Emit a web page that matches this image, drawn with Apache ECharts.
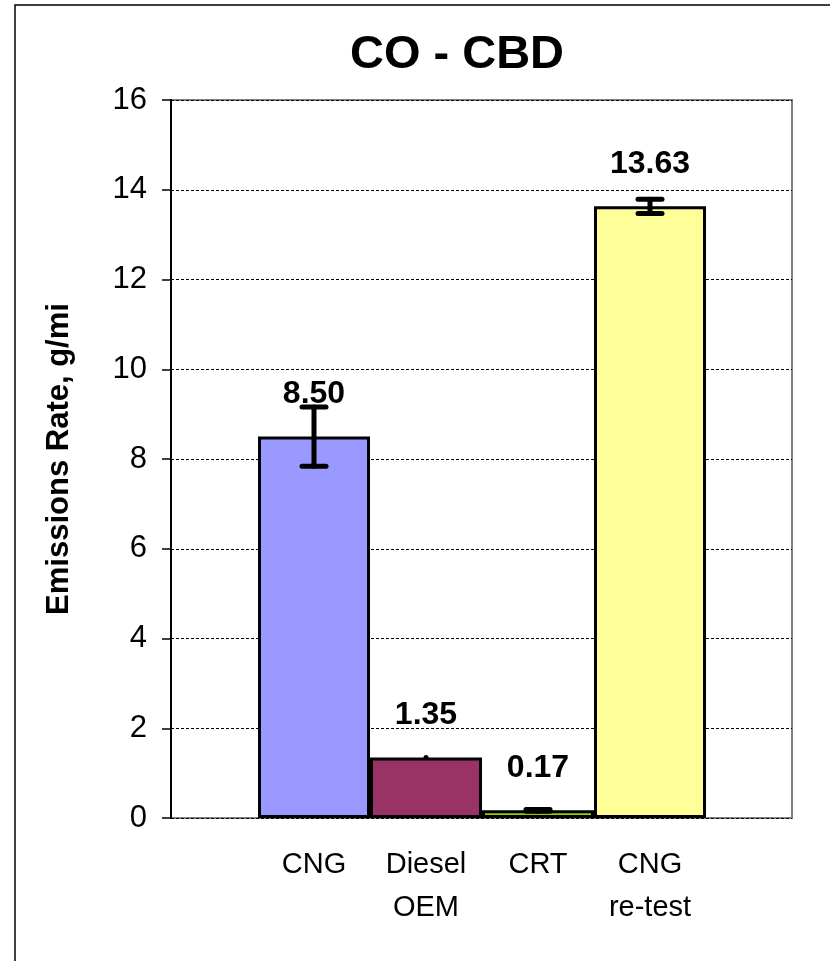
<!DOCTYPE html>
<html>
<head>
<meta charset="utf-8">
<script src="https://cdn.jsdelivr.net/npm/echarts@6/dist/echarts.min.js"></script>
<style>
  html, body { margin: 0; padding: 0; background: #fff; }
  #chart { width: 830px; height: 961px; }
</style>
</head>
<body>
<div id="chart"></div>
<script>
// chart data
var categories = ['CNG', 'Diesel\nOEM', 'CRT', 'CNG\nre-test'];
var emissions = [8.50, 1.35, 0.17, 13.63];
var errors = [0.66, 0, 0.02, 0.16];
var barColors = ['#9999FF', '#993366', '#99CC00', '#FFFF99'];

var font = 'Liberation Sans, Arial, sans-serif';
var chart = echarts.init(document.getElementById('chart'));

var barData = emissions.map(function(v, i) {
	return { value: v, itemStyle: { color: barColors[i] } };
});
var errData = emissions.map(function(v, i) {
	return [i, v - errors[i], v + errors[i]];
});

var option = {
	animation: false,
	backgroundColor: '#fff',
	textStyle: { fontFamily: font },
	title: {
		text: 'CO - CBD',
		left: 452,
		top: 27,
		textAlign: 'center',
		textStyle: { fontSize: 47, fontWeight: 'bold', color: '#000', fontFamily: font }
	},
	graphic: [{
		type: 'rect',
		shape: { x: 15, y: 5, width: 830, height: 1000 },
		style: { fill: 'none', stroke: '#000', lineWidth: 1.5 },
		silent: true
	}],
	grid: [
		{ left: 171, right: 38, top: 100, bottom: 143, show: true, borderColor: '#808080', borderWidth: 2 },
		{ left: 258, right: 124, top: 100, bottom: 143 }
	],
	xAxis: [
		{ type: 'category', gridIndex: 0, data: ['a'], show: false },
		{
			type: 'category', gridIndex: 1, data: categories,
			axisLine: { show: false }, axisTick: { show: false },
			axisLabel: { color: '#000', fontSize: 29, lineHeight: 43, margin: 25, fontFamily: font }
		}
	],
	yAxis: [
		{
			type: 'value', gridIndex: 0, min: 0, max: 16, interval: 2,
			name: 'Emissions Rate, g/mi', nameLocation: 'middle', nameGap: 96,
			nameTextStyle: { fontSize: 31, fontWeight: 'bold', color: '#000', fontFamily: font },
			axisLine: { show: true, lineStyle: { color: '#000', width: 2 } },
			axisTick: { show: true, length: 9, lineStyle: { color: '#000', width: 1.5 } },
			axisLabel: { color: '#000', fontSize: 31, margin: 24, fontFamily: font },
			splitLine: { show: true, lineStyle: { color: '#000', width: 1, type: [3, 2] } }
		},
		{ type: 'value', gridIndex: 1, min: 0, max: 16, show: false, splitLine: { show: false } }
	],
	series: [
		{
			type: 'bar', xAxisIndex: 1, yAxisIndex: 1,
			data: barData,
			barCategoryGap: 0,
			itemStyle: { borderColor: '#000', borderWidth: 3 },
			label: {
				show: true, position: 'top', distance: 26,
				formatter: function(p) { return p.value.toFixed(2); },
				fontSize: 32, fontWeight: 'bold', color: '#000', fontFamily: font
			},
			z: 2
		},
		{
			type: 'custom', xAxisIndex: 1, yAxisIndex: 1,
			data: errData,
			z: 5,
			renderItem: function(params, api) {
				var x = api.coord([api.value(0), 0])[0];
				var lo = api.coord([api.value(0), api.value(1)])[1];
				var hi = api.coord([api.value(0), api.value(2)])[1];
				if (api.value(2) - api.value(1) < 1e-6) {
					return { type: 'circle', shape: { cx: x, cy: hi, r: 2.5 }, style: { fill: '#000' } };
				}
				var hw = 12;
				var st = { stroke: '#000', lineWidth: 5, lineCap: 'round' };
				return {
					type: 'group',
					children: [
						{ type: 'line', shape: { x1: x, y1: lo, x2: x, y2: hi }, style: st },
						{ type: 'line', shape: { x1: x - hw, y1: lo, x2: x + hw, y2: lo }, style: st },
						{ type: 'line', shape: { x1: x - hw, y1: hi, x2: x + hw, y2: hi }, style: st }
					]
				};
			}
		}
	]
};

chart.setOption(option);
</script>
</body>
</html>
